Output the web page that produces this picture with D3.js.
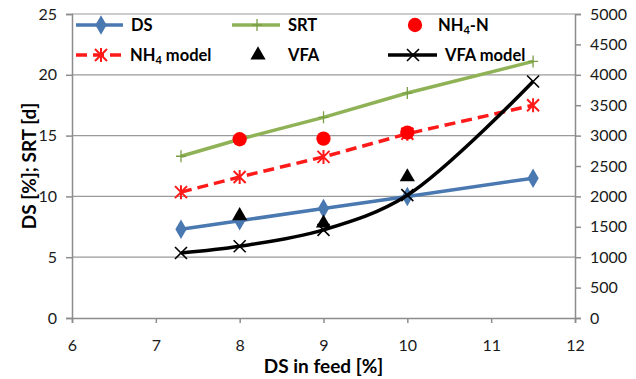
<!DOCTYPE html>
<html>
<head>
<meta charset="utf-8">
<script src="https://cdn.jsdelivr.net/npm/d3@7"></script>
<style>
  body { margin: 0; background: #fff; }
  text { font-family: Lato, "Open Sans", sans-serif; }
</style>
</head>
<body>
<div id="chart"></div>
<script>
// data
var feedDS = [7.3, 8, 9, 10, 11.5];
var dsValues = [7.3, 8, 9, 10, 11.5];
var srtValues = [13.3, 14.7, 16.5, 18.5, 21.1];
var nh4X = [8, 9, 10];
var nh4Values = [2940, 2950, 3050];
var nh4Model = [2070, 2320, 2650, 3030, 3500];
var vfaX = [8, 9, 10];
var vfaValues = [1680, 1560, 2320];
var vfaModel = [1070, 1180, 1450, 2020, 3890];
var xTicks = [6, 7, 8, 9, 10, 11, 12];
var leftTicks = [0, 5, 10, 15, 20, 25];
var rightTicks = [0, 500, 1000, 1500, 2000, 2500, 3000, 3500, 4000, 4500, 5000];

var width = 636, height = 379;
var margin = { top: 14, right: 61, bottom: 61, left: 72 };
var w = width - margin.left - margin.right;
var h = height - margin.top - margin.bottom;

var svg = d3.select("#chart").append("svg")
	.attr("width", width)
	.attr("height", height);
var g = svg.append("g")
	.attr("transform", "translate(" + margin.left + "," + margin.top + ")");

var x = d3.scaleLinear().domain([6, 12]).range([0, w]);
var yL = d3.scaleLinear().domain([0, 25]).range([h, 0]);
var yR = d3.scaleLinear().domain([0, 5000]).range([h, 0]);

var axisGrey = "#8c8c8c";
var fmt = d3.format("d");

// gridlines
g.selectAll(".grid").data(leftTicks.slice(1)).enter().append("line")
	.attr("x1", 0).attr("x2", w)
	.attr("y1", function (d) { return yL(d); })
	.attr("y2", function (d) { return yL(d); })
	.attr("stroke", "#9a9a9a").attr("stroke-width", 1.2);

function styleAxis(sel) {
	sel.selectAll("path, line").attr("stroke", axisGrey).attr("stroke-width", 1.5);
	sel.selectAll("text").attr("fill", "#1a1a1a").style("font-size", "16px");
}

g.append("g")
	.attr("transform", "translate(0," + h + ")")
	.call(d3.axisBottom(x).tickValues(xTicks).tickFormat(fmt).tickSizeOuter(0).tickSize(5).tickPadding(17))
	.call(styleAxis);
g.append("g")
	.call(d3.axisLeft(yL).tickValues(leftTicks).tickFormat(fmt).tickSizeOuter(0).tickSize(6).tickPadding(9))
	.call(styleAxis);
g.append("g")
	.attr("transform", "translate(" + w + ",0)")
	.call(d3.axisRight(yR).tickValues(rightTicks).tickFormat(fmt).tickSizeOuter(0).tickSize(6).tickPadding(9))
	.call(styleAxis);

// axis titles
svg.append("text")
	.attr("x", margin.left + w / 2).attr("y", 373)
	.attr("text-anchor", "middle")
	.style("font-size", "19px").style("font-weight", "bold")
	.text("DS in feed [%]");
svg.append("text")
	.attr("transform", "translate(36," + (margin.top + h / 2) + ") rotate(-90)")
	.attr("text-anchor", "middle")
	.style("font-size", "19px").style("font-weight", "bold")
	.text("DS [%]; SRT [d]");

// marker helpers
var sym = {
	diamond: d3.symbol().type(d3.symbolDiamond).size(110),
	circle: d3.symbol().type(d3.symbolCircle).size(160),
	triangle: d3.symbol().type(d3.symbolTriangle).size(100)
};

function drawMarker(sel, kind, color) {
	if (kind === "diamond" || kind === "circle" || kind === "triangle") {
		sel.append("path").attr("d", sym[kind]()).attr("fill", color);
	} else if (kind === "x") {
		sel.append("path").attr("d", "M-6,-6L6,6M-6,6L6,-6").attr("stroke", color).attr("stroke-width", 1.6).attr("fill", "none");
	} else if (kind === "plus") {
		sel.append("path").attr("d", "M-5,0L5,0M0,-6L0,6").attr("stroke", color).attr("stroke-width", 1.3).attr("fill", "none");
	} else if (kind === "star") {
		sel.append("path").attr("d", "M-6,-6L6,6M-6,6L6,-6M0,-7L0,7").attr("stroke", color).attr("stroke-width", 2).attr("fill", "none");
	}
}

function addSeries(xs, ys, yScale, opts) {
	var pts = xs.map(function (d, i) { return [x(d), yScale(ys[i])]; });
	if (opts.line) {
		g.append("path")
			.attr("d", d3.line().curve(opts.curve || d3.curveLinear)(pts))
			.attr("fill", "none")
			.attr("stroke", opts.color)
			.attr("stroke-width", 3.5)
			.attr("stroke-dasharray", opts.dash || null);
	}
	g.selectAll(null).data(pts).enter().append("g")
		.attr("transform", function (p) { return "translate(" + p[0] + "," + p[1] + ")"; })
		.each(function () { drawMarker(d3.select(this), opts.marker, opts.markerColor || opts.color); });
}

addSeries(feedDS, srtValues, yL, { line: true, color: "#8eb255", marker: "plus", markerColor: "#7a9e45" });
addSeries(feedDS, nh4Model, yR, { line: true, color: "#ff1a1a", marker: "star", dash: "11,6" });
addSeries(nh4X, nh4Values, yR, { line: false, color: "#ff0000", marker: "circle" });
addSeries(feedDS, dsValues, yL, { line: true, color: "#4a78b0", marker: "diamond" });
addSeries(vfaX, vfaValues, yR, { line: false, color: "#000", marker: "triangle" });
addSeries(feedDS, vfaModel, yR, { line: true, color: "#000", marker: "x", curve: d3.curveCatmullRom });

// legend
var legend = [
	{ lx: 76, ly: 25, tx: 131, label: "DS", color: "#4a78b0", marker: "diamond", line: true },
	{ lx: 232, ly: 25, tx: 288, label: "SRT", color: "#8eb255", marker: "plus", markerColor: "#7a9e45", line: true },
	{ lx: 390, ly: 25, tx: 438, label: "NH4-N", color: "#ff0000", marker: "circle", line: false },
	{ lx: 76, ly: 55, tx: 130, label: "NH4 model", color: "#ff1a1a", marker: "star", line: true, dash: "11,6" },
	{ lx: 233, ly: 55, tx: 288, label: "VFA", color: "#000", marker: "triangle", line: false },
	{ lx: 388, ly: 55, tx: 445, label: "VFA model", color: "#000", marker: "x", line: true }
];

var lg = svg.selectAll(".legend").data(legend).enter().append("g");
lg.each(function (d) {
	var s = d3.select(this);
	var len = d.tx - d.lx - 8;
	if (d.line) {
		s.append("line")
			.attr("x1", d.lx).attr("x2", d.lx + len)
			.attr("y1", d.ly).attr("y2", d.ly)
			.attr("stroke", d.color).attr("stroke-width", 3.5)
			.attr("stroke-dasharray", d.dash || null);
	}
	var m = s.append("g").attr("transform", "translate(" + (d.lx + 25) + "," + d.ly + ")");
	drawMarker(m, d.marker, d.markerColor || d.color);
	var t = s.append("text")
		.attr("x", d.tx).attr("y", d.ly + 6)
		.style("font-size", "16.5px").style("font-weight", "bold");
	var parts = d.label.split("4");
	if (parts.length > 1) {
		t.append("tspan").text(parts[0]);
		t.append("tspan").text("4").style("font-size", "11px").attr("dy", 3);
		t.append("tspan").text(parts[1]).attr("dy", -3);
	} else {
		t.text(d.label);
	}
});
</script>
</body>
</html>
